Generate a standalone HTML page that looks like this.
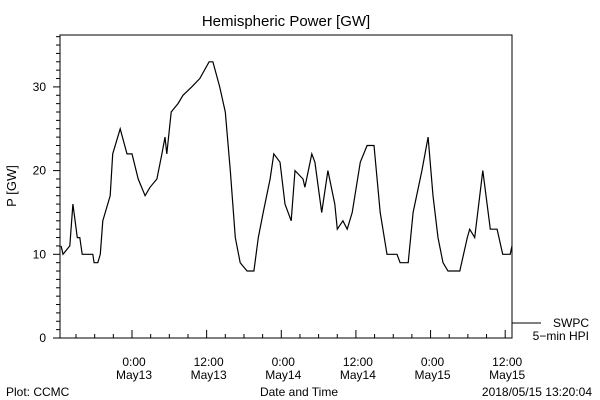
<!DOCTYPE html>
<html><head><meta charset="utf-8"><style>
body{margin:0;background:#fff;}
svg{display:block;font-family:"Liberation Sans",sans-serif;}
</style></head><body>
<svg id="chart" width="600" height="400" viewBox="0 0 600 400">
<rect width="600" height="400" fill="#fff"/>
<text x="286" y="26" font-size="15" text-anchor="middle">Hemispheric Power [GW]</text>
<text x="16" y="186" font-size="13" text-anchor="middle" transform="rotate(-90 16 186)">P [GW]</text>
<rect x="60" y="35" width="452" height="303" fill="none" stroke="#000" stroke-width="1"/>
<g id="yaxis"></g>
<g id="xaxis"></g>
<g id="series"></g>
<line x1="512" y1="323" x2="541" y2="323" stroke="#000"/>
<text x="589" y="327" font-size="12" text-anchor="end">SWPC</text>
<text x="589" y="340" font-size="12" text-anchor="end">5−min HPI</text>
<text x="299" y="396" font-size="12" text-anchor="middle">Date and Time</text>
<text x="6" y="396" font-size="12">Plot: CCMC</text>
<text x="592" y="396" font-size="12" text-anchor="end">2018/05/15 13:20:04</text>
</svg>
<script>
const hours=[-11.4,-11.1,-10,-9.5,-8.8,-8.4,-8,-6.3,-6.1,-5.5,-5.1,-4.7,-3.5,-3.1,-1.9,-0.8,0,1,2.1,2.9,4,4.8,5.3,5.6,6.3,7.4,8.2,9.6,10.9,12.4,13,14.1,15,15.8,16.6,17.4,18.5,19.6,20.3,21.1,22.2,22.8,23.8,24.6,25.6,26.2,27.5,27.8,28.9,29.4,30.5,31.5,32.6,33,33.9,34.6,35.4,36.7,37.8,38.9,39.9,41,42.6,43.1,44.4,45.2,46.6,47.6,48.4,49.2,50,50.8,52.7,53.9,54.3,55.1,56.4,57.6,58.7,59.6,60.8,61.1];
const power=[11,10,11,16,12,12,10,10,9,9,10,14,17,22,25,22,22,19,17,18,19,22,24,22,27,28,29,30,31,33,33,30,27,20,12,9,8,8,12,15,19,22,21,16,14,20,19,18,22,21,15,20,16,13,14,13,15,21,23,23,15,10,10,9,9,15,20,24,17,12,9,8,8,12,13,12,20,13,13,10,10,11];
const yTicks=[0,10,20,30];
const xTickHours=[0,12,24,36,48,60];
const xTickLabels=[["0:00","May13"],["12:00","May13"],["0:00","May14"],["12:00","May14"],["0:00","May15"],["12:00","May15"]];
const NS="http://www.w3.org/2000/svg";
const X=h=>132+h*6.22;
const Y=v=>338-v*8.37;
function mk(tag,attrs,parent){const e=document.createElementNS(NS,tag);for(const k in attrs)e.setAttribute(k,attrs[k]);parent.appendChild(e);return e;}
const ya=document.getElementById('yaxis');
for(let v=0;v<=36;v++){
  const l=mk('line',{x1:60-(v%10===0?7:4),x2:60,y1:Y(v),y2:Y(v),stroke:'#000'},ya);
  
  
}
yTicks.forEach(v=>{
  const t=mk('text',{x:46,y:Y(v)+4,'font-size':12,'text-anchor':'end'},ya);
  t.textContent=v;
  
  
});
const xa=document.getElementById('xaxis');
for(let h=-9;h<=61;h+=3){
  const major=h%12===0;
  const l=mk('line',{x1:X(h),x2:X(h),y1:338,y2:338-(major?8:4),stroke:'#000'},xa);
  
  
}
xTickHours.forEach((h,i)=>{
  const t1=mk('text',{x:X(h)+2,y:366,'font-size':12,'text-anchor':'middle'},xa);
  t1.textContent=xTickLabels[i][0];
  
  
  const t2=mk('text',{x:X(h)+2,y:379,'font-size':12,'text-anchor':'middle'},xa);
  t2.textContent=xTickLabels[i][1];
  
  
});
let d='';
hours.forEach((h,i)=>{
  const x=Math.min(512,Math.max(61,X(h))).toFixed(1),y=Y(power[i]).toFixed(1);
  d+=(i===0?'M':' L')+x+' '+y;
});
const p=mk('path',{d:d,fill:'none',stroke:'#000','stroke-width':1.2,'stroke-linejoin':'miter'},document.getElementById('series'));


</script>
</body></html>
